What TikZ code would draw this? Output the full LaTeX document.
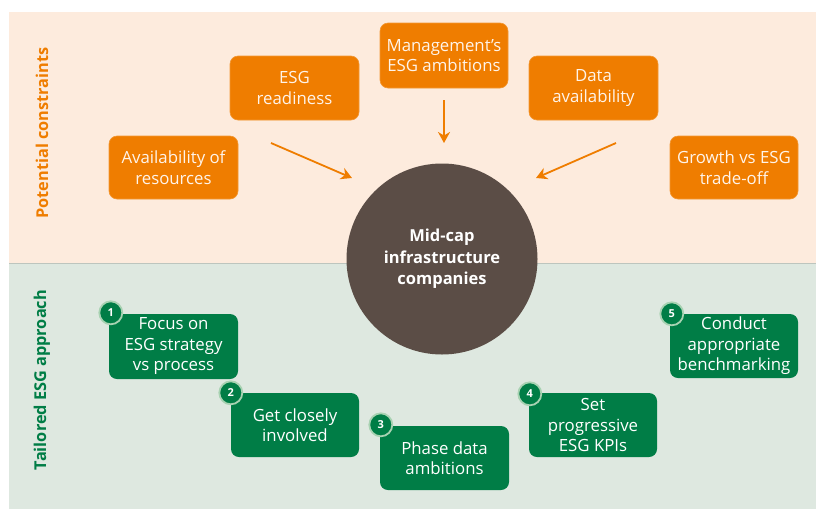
\documentclass[tikz,border=0pt]{standalone}
\usepackage{fontspec}
\setmainfont{Open Sans}
\usetikzlibrary{arrows.meta}
\definecolor{peach}{HTML}{FDEBDD}
\definecolor{mint}{HTML}{DEE8E0}
\definecolor{orng}{HTML}{EF7D00}
\definecolor{grn}{HTML}{007D46}
\definecolor{ring}{HTML}{A8D2B2}
\definecolor{brwn}{HTML}{5B4D46}
\definecolor{otext}{HTML}{FFF4EA}
\tikzset{
  obox/.style={rounded corners=8pt, fill=orng, draw=orng!80!white, line width=0.6pt, minimum width=129pt, minimum height=64pt, align=center, text=otext, font=\fontsize{16.8}{20.5}\selectfont, inner sep=1pt},
  gbox/.style={rounded corners=8pt, fill=grn, minimum width=129pt, minimum height=64pt, align=center, text=white, font=\fontsize{16.8}{20.5}\selectfont, inner sep=1pt},
  badge/.style={circle, fill=grn, draw=ring, line width=1.8pt, minimum size=23pt, inner sep=0pt, text=white, font=\fontsize{11}{11}\selectfont\bfseries},
  oarrow/.style={draw=orng, line width=1.8pt, -{Stealth[length=11pt,width=12pt,inset=3.5pt]}},
  sidelab/.style={rotate=90, font=\fontsize{16.3}{18}\selectfont\bfseries},
}
\begin{document}
\begin{tikzpicture}[x=1pt,y=-1pt]
\useasboundingbox (0,0) rectangle (816,509);
\fill[white] (0,0) rectangle (816,509);
\fill[peach] (9,12) rectangle (816,263);
\fill[mint] (9,263) rectangle (816,509);
\draw[mint!85!black, line width=0.5pt] (9,263) -- (816,263);

\node[sidelab, text=orng] (lab1) at (42,133) {Potential constraints};
\node[sidelab, text=grn] (lab2) at (42,380) {Tailored ESG approach};

\node[circle, fill=brwn, minimum size=191pt, inner sep=0pt, text=white, align=center, font=\fontsize{16.5}{21.5}\selectfont\bfseries] (hub) at (442,259) {Mid-cap\\infrastructure\\companies};

\node[obox, minimum width=128pt, minimum height=65pt] (mgmt) at (444,55.5) {Management’s\\ESG ambitions};
\node[obox] (ready) at (294.5,88) {ESG\\readiness};
\node[obox, minimum height=63pt] (res) at (173.5,167.5) {Availability of\\resources};
\node[obox] (data) at (593.5,88) {Data\\availability};
\node[obox, minimum width=128pt, minimum height=63pt] (grow) at (734,167.5) {Growth vs ESG\\trade-off};

\coordinate (a1s) at (271,143); \coordinate (a1e) at (352,178);
\coordinate (a2s) at (444,100); \coordinate (a2e) at (444,143);
\coordinate (a3s) at (616,143); \coordinate (a3e) at (536,178);
\draw[oarrow] (a1s) -- (a1e);
\draw[oarrow] (a2s) -- (a2e);
\draw[oarrow] (a3s) -- (a3e);

\node[gbox, minimum height=65pt] (g1) at (173.5,346.5) {Focus on\\ESG strategy\\vs process};
\node[gbox, minimum width=128pt] (g2) at (295,425) {Get closely\\involved};
\node[gbox] (g3) at (444.5,458) {Phase data\\ambitions};
\node[gbox, minimum width=128pt] (g4) at (593,425) {Set\\progressive\\ESG KPIs};
\node[gbox, minimum width=128pt] (g5) at (734,346) {Conduct\\appropriate\\benchmarking};

\node[badge] (b1) at ([xshift=2pt,yshift=1pt]g1.north west) {1};
\node[badge] (b2) at ([xshift=0pt,yshift=0pt]g2.north west) {2};
\node[badge] (b3) at ([xshift=1pt,yshift=1pt]g3.north west) {3};
\node[badge] (b4) at ([xshift=1pt,yshift=-1pt]g4.north west) {4};
\node[badge] (b5) at ([xshift=2pt,yshift=0pt]g5.north west) {5};
\end{tikzpicture}
\end{document}
